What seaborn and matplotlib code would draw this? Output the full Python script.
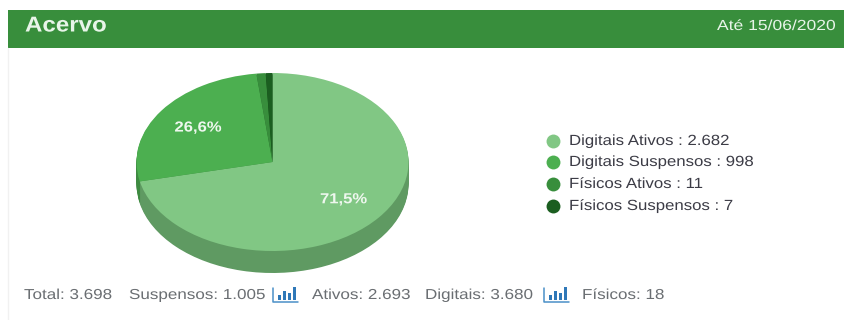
import matplotlib
matplotlib.use("Agg")
import matplotlib.pyplot as plt
import matplotlib.patheffects as pe
from matplotlib.transforms import Affine2D
import seaborn as sns
from matplotlib.patches import Rectangle

# Collection figures
slice_names = ["Digitais Ativos", "Digitais Suspensos", "Físicos Ativos", "Físicos Suspensos"]
slice_counts = ["2.682", "998", "11", "7"]
slice_shares = [71.5, 26.6, 1.1, 0.8]
top_palette = ["#81C784", "#4CAF50", "#388E3C", "#1B5E20"]
side_palette = ["#5F9A62", "#3E8A41", "#2B6E2F", "#144A18"]
title_text = "Acervo"
date_text = "Até 15/06/2020"
footer_items = [("Total: 3.698", 24), ("Suspensos: 1.005", 129), ("Ativos: 2.693", 312),
                ("Digitais: 3.680", 425), ("Físicos: 18", 582)]
icon_lefts = [273, 544]
icon_heights = [5, 9, 7, 13]

W, H = 845, 320
sns.set_theme(style="white")
plt.rcParams["font.family"] = ["Liberation Sans", "DejaVu Sans"]


class WideText(pe.AbstractPathEffect):
    """Widen glyph outlines horizontally, about the text start or its middle."""

    def __init__(self, factor, centred=False):
        super().__init__()
        self.factor = factor
        self.centred = centred

    def draw_path(self, renderer, gc, tpath, affine, rgbFace=None):
        box = tpath.get_extents()
        anchor = (box.x0 + box.x1) / 2 if self.centred else 0.0
        widen = Affine2D().translate(-anchor, 0).scale(self.factor, 1).translate(anchor, 0)
        renderer.draw_path(gc, tpath, widen + affine, rgbFace)


fig = plt.figure(figsize=(W / 100, H / 100), dpi=100, facecolor="white")

# Page layer in pixel units, y growing downward
page = fig.add_axes([0, 0, 1, 1], zorder=0)
page.set_xlim(0, W)
page.set_ylim(H, 0)
page.axis("off")
page.add_patch(Rectangle((8, 10), W - 8, 38, color="#388E3C", lw=0))
page.plot([8, 8], [48, 320], color="#F1F1F1", lw=1)
page.text(25, 26, title_text, color="#E8F5E9", fontsize=15.5, fontweight="bold", va="center",
          path_effects=[WideText(1.12)])
page.text(717, 26, date_text, color="#E8F5E9", fontsize=10.5, va="center",
          path_effects=[WideText(1.2)])

# Legend column
legend_rows = [141, 162, 184, 206]
for name, count, colour, y in zip(slice_names, slice_counts, top_palette, legend_rows):
    page.scatter([553], [y], s=100, color=colour, linewidths=0)
    page.text(569, y, f"{name} : {count}", color="#3C3C46", fontsize=10.6, va="center",
              path_effects=[WideText(1.14)])

# Footer totals with small bar-chart icons
for label, x in footer_items:
    page.text(x, 295, label, color="#6A6E72", fontsize=10.4, va="center",
              path_effects=[WideText(1.18)])
for left in icon_lefts:
    page.plot([left, left, left + 25], [288, 302, 302], color="#4A90C8", lw=1.1)
    for i, h in enumerate(icon_heights):
        page.add_patch(Rectangle((left + 5 + i * 5, 300 - h), 3, h, color="#2F78B8", lw=0))

# Tilted pie: an elliptical top over a stack of darker copies forming the rim
cx, cy, rx, ry, depth = 272.5, 162.0, 136.0, 89.0, 22
x_pad, y_top, y_bot = 1.05, 1.05, 1.4
pie_ax = fig.add_axes([(cx - x_pad * rx) / W, 1 - (cy + y_bot * ry) / H,
                       2 * x_pad * rx / W, (y_top + y_bot) * ry / H], zorder=1)
for step in range(depth, 0, -1):
    pie_ax.pie(slice_shares, colors=side_palette, startangle=90, counterclock=False,
               center=(0, -step / ry), wedgeprops={"linewidth": 0})
pie_ax.pie(slice_shares, colors=top_palette, startangle=90, counterclock=False,
           wedgeprops={"linewidth": 0}, pctdistance=0.67,
           autopct=lambda p: f"{p:.1f}%".replace(".", ",") if p > 5 else "",
           textprops={"color": "#EEF7EE", "fontsize": 10.5, "fontweight": "bold",
                      "path_effects": [WideText(1.14, centred=True)]})
pie_ax.set_aspect("auto")
pie_ax.set_xlim(-x_pad, x_pad)
pie_ax.set_ylim(-y_bot, y_top)
pie_ax.patch.set_alpha(0)

fig.savefig("out.png", dpi=100)
